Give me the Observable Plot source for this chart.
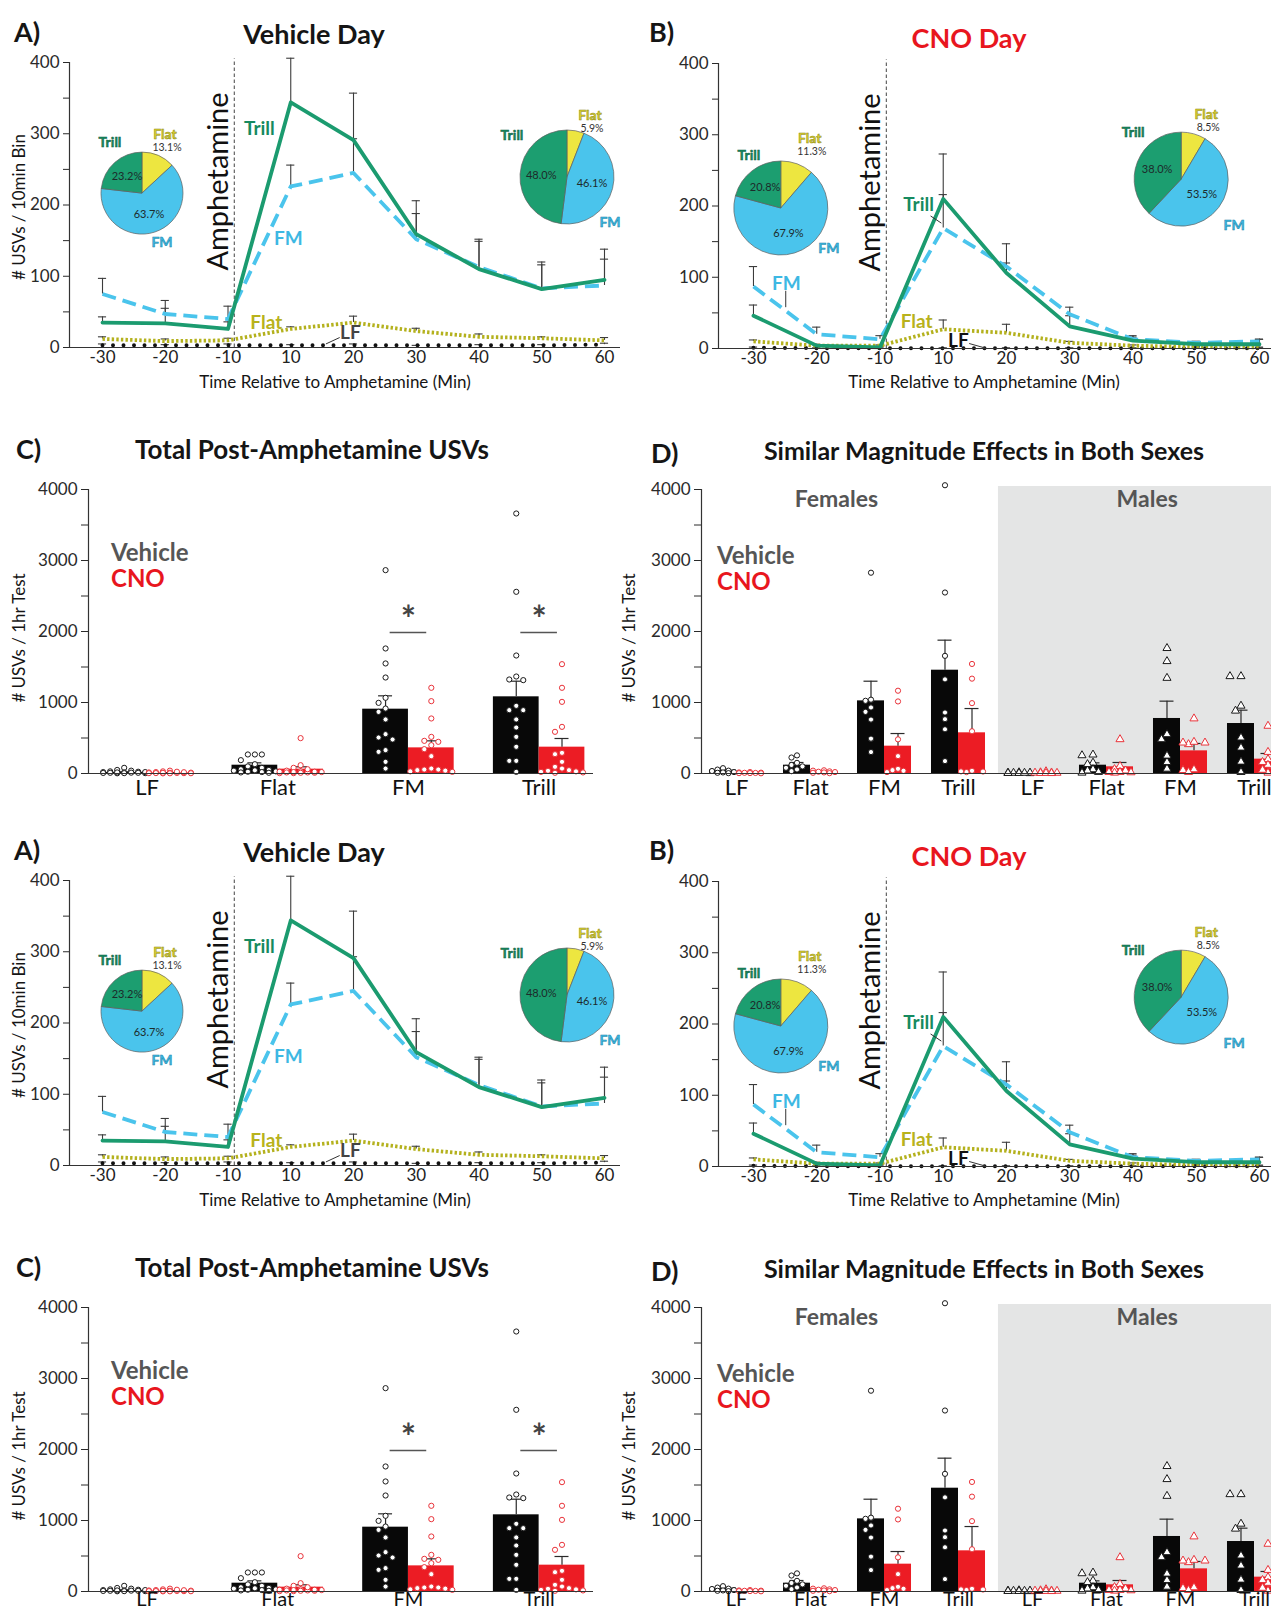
<!DOCTYPE html>
<html>
<head>
<meta charset="utf-8">
<script src="https://cdn.jsdelivr.net/npm/d3@7"></script>
<script src="https://cdn.jsdelivr.net/npm/@observablehq/plot@0.6"></script>
<style>
html,body{margin:0;padding:0;background:#fff;overflow:hidden;}
#page{position:relative;width:1271px;height:1618px;overflow:hidden;font-family:Lato,"Open Sans",sans-serif;color:#151515;background:#fff;}
.t{position:absolute;white-space:nowrap;line-height:1;}
.panel{position:absolute;overflow:visible;}
.panel svg{overflow:visible;max-width:none;display:block;}
</style>
</head>
<body>
<div id="page"></div>
<script>
// ---------------- data: panels A / B (USVs per 10-min bin) ----------------
const times = ["-30","-20","-10","10","20","30","40","50","60"];
const amphetamineAt = 2.1;           // injection, between the "-10" and "10" bins
const callTypes = ["Flat","FM","Trill"];

const vehTrill      = [35, 34, 26, 344, 291, 159, 110, 82, 95];
const vehTrillUpper = [43, 55, 36, 406, 357, 206, 152, 120, 138];
const vehFM         = [75, 47, 40, 226, 245, 152, 113, 83, 87];
const vehFMUpper    = [97, 66, 58, 256, 293, 188, 149, 116, 124];
const vehFlat       = [12, 9, 10, 26, 35, 23, 15, 13, 10];
const vehFlatUpper  = [15, 12, 13, 29, 44, 27, 19, 15, 14];
const vehLF         = [3, 3, 3, 3, 3, 3, 3, 3, 4];
const vehLFUpper    = [5, 4, 5, 4, 5, 3, 4, 4, 6];

const cnoTrill      = [46, 4, 1.5, 210, 106, 31, 11, 6, 6];
const cnoTrillUpper = [61, 6, 3, 273, 147, 46, 16, 10, 13];
const cnoFM         = [87, 20, 13, 169, 115, 48, 13, 8, 10];
const cnoFMUpper    = [115, 30, 18, 216, 120, 58, 18, 10, 13];
const cnoFlat       = [10, 4, 4, 27, 22, 8, 4, 2, 1.5];
const cnoFlatUpper  = [12, 5, 5, 40, 34, 10, 5, 3, 2];
const cnoLF         = [1, 0.5, 0.5, 0.5, 0.5, 0.5, 0.5, 0.5, 0.5];
const cnoLFUpper    = [2, 1, 1, 1, 1, 1, 1, 1, 1];

// pie percentages, in callTypes order (Flat, FM, Trill)
const vehPrePie  = [13.1, 63.7, 23.2];
const vehPostPie = [5.9, 46.1, 48.0];
const cnoPrePie  = [11.3, 67.9, 20.8];
const cnoPostPie = [8.5, 53.5, 38.0];

// ---------------- data: panel C (total post-amphetamine USVs) ----------------
const barCats     = ["LF","Flat","FM","Trill"];
const totVehMean  = [15, 117, 906, 1080];
const totVehUpper = [25, 150, 1094, 1300];
const totCnoMean  = [8, 61, 361, 371];
const totCnoUpper = [12, 94, 460, 493];
const totVehPts = [
  [80, 50, 40, 30, 25, 20, 15, 10, 10, 8, 5, 5, 3, 15, 20, 12],
  [268, 268, 268, 188, 131, 100, 80, 60, 50, 40, 30, 25, 20, 15, 10, 45],
  [2864, 1761, 1550, 1352, 1066, 995, 915, 868, 761, 554, 507, 479, 305, 329, 164, 70],
  [3662, 2559, 1662, 1366, 1315, 1324, 892, 892, 953, 761, 648, 516, 376, 178, 178, 23]];
const totCnoPts = [
  [40, 30, 20, 15, 12, 10, 8, 5, 5, 3, 2, 10, 6, 4, 18, 25],
  [498, 117, 80, 40, 30, 20, 15, 10, 10, 5, 5, 60, 25, 20, 15, 25],
  [1207, 1019, 775, 516, 446, 460, 399, 343, 244, 70, 56, 47, 56, 23, 40, 30],
  [1540, 1207, 1009, 657, 587, 272, 291, 164, 94, 70, 47, 38, 23, 30, 10, 15]];
const sigCats = ["FM","Trill"];
const sigLevel = 1986;

// ---------------- data: panel D (by sex) ----------------
const sexes = ["Females","Males"];
const femVehMean  = [47, 117, 1023, 1455];
const femVehUpper = [57, 155, 1300, 1878];
const femCnoMean  = [10, 23, 385, 573];
const femCnoUpper = [14, 30, 563, 915];
const maleVehMean  = [8, 117, 775, 704];
const maleVehUpper = [12, 150, 1019, 892];
const maleCnoMean  = [10, 94, 319, 202];
const maleCnoUpper = [14, 155, 423, 282];
const femVehPts = [[75,55,40,35,20,15,10,5],[255,225,150,80,57,33,120,100],[2828,1024,1040,868,930,760,491,302],[4060,2549,1657,1326,859,765,623,175]];
const femCnoPts = [[20,15,10,8,5,12,3,6],[45,40,30,20,15,10,5,25],[1166,1015,481,245,66,47,38,20],[1543,1336,991,595,28,38,20,30]];
const maleVehPts = [[15,10,8,5,5,3,10,8],[255,265,151,130,57,40,20,10],[1765,1581,1345,552,481,160,66,250],[1369,1369,953,883,505,363,165,19]];
const maleCnoPts = [[30,15,10,8,5,12,6,4],[481,104,60,40,20,15,10,20],[774,411,434,444,434,57,47,20],[670,302,104,10,200,120,50,160]];

// ---------------- styling ----------------
const FONT = 'Lato, "Open Sans", "DejaVu Sans", sans-serif';
const COL = {trill:"#1b9b6f", trillPie:"#1c9e70", fm:"#4ac4ec", flatLine:"#b4b11d", flatPie:"#ede640",
  lf:"#111", trillTxt:"#168a60", fmTxt:"#3db8e3", flatTxt:"#b8b21c", flatPieTxt:"#d8cf30",
  veh:"#080808", cno:"#ec1c24", cnoPt:"#e9343b", grey:"#565656", axis:"#333"};

function txt(parent, s, x, y, o = {}) {
  const d = document.createElement("div");
  d.className = "t"; d.textContent = s;
  d.style.left = x + "px"; d.style.top = y + "px";
  d.style.fontSize = (o.size || 17) + "px";
  d.style.fontWeight = o.bold ? "700" : "400";
  d.style.color = o.color || "#151515";
  const ax = o.anchor === "start" ? "0" : "-50%";
  d.style.transform = `translate(${ax},-50%)` + (o.rotate ? ` rotate(${o.rotate}deg)` : "");
  parent.appendChild(d);
}
function place(parent, svg, left, top, width) {
  const d = document.createElement("div");
  d.className = "panel"; d.style.left = left + "px"; d.style.top = top + "px"; d.style.width = width + "px";
  d.appendChild(svg); parent.appendChild(d);
}
const plotStyle = {fontFamily: FONT, fontSize: "17px", color: "#2a2a2a", background: "none", overflow: "visible"};

// ---------------- pies (drawn with d3 inside a Plot render function) ----------------
function pieMark(p) {
  return (index, scales) => {
    const cx = scales.x(p.at[0]), cy = scales.y(p.at[1]);
    const g = d3.create("svg:g").attr("transform", `translate(${cx},${cy})`);
    const data = callTypes.map((t, i) => ({type: t, pct: p.values[i]}));
    const arcs = d3.pie().sort(null).value(d => d.pct)(data);
    const arc = d3.arc().innerRadius(0).outerRadius(p.r);
    const fill = {Flat: COL.flatPie, FM: COL.fm, Trill: COL.trillPie};
    g.selectAll("path").data(arcs).join("path").attr("d", arc)
      .attr("fill", d => fill[d.data.type]).attr("stroke", "#5f5f5f").attr("stroke-width", 0.7);
    const inner = d3.arc().innerRadius(p.r * 0.55).outerRadius(p.r * 0.55);
    arcs.filter(a => a.data.type !== "Flat").forEach(a => {
      const [x, y] = inner.centroid(a);
      g.append("text").attr("x", x).attr("y", y).attr("dy", "0.35em").attr("text-anchor", "middle")
        .attr("font-size", 11).attr("fill", "#1d2b2b").attr("font-family", FONT).text(a.data.pct.toFixed(1) + "%");
    });
    const tc = {Trill: [COL.trillTxt, "#0f5e40"], Flat: [COL.flatPieTxt, "#8f8a16"], FM: [COL.fmTxt, "#1f86a8"]};
    for (const t of callTypes) {
      const [dx, dy] = p.lab[t];
      g.append("text").attr("x", dx).attr("y", t === "Flat" ? dy - 1 : dy).attr("dy", "0.35em").attr("text-anchor", "middle")
        .attr("font-size", 14).attr("font-weight", 700).attr("font-family", FONT)
        .attr("fill", tc[t][0]).attr("stroke", tc[t][1]).attr("stroke-width", 0.5).text(t);
    }
    const [fx, fy] = p.lab.Flat;
    g.append("text").attr("x", fx + 2).attr("y", fy + 12).attr("dy", "0.35em").attr("text-anchor", "middle")
      .attr("font-size", 10.5).attr("fill", "#333").attr("font-family", FONT).text(p.values[0].toFixed(1) + "%");
    return g.node();
  };
}

// ---------------- line panels ----------------
function linePanel(parent, cfg) {
  const rows = [];
  cfg.series.forEach(s => s.values.forEach((v, i) => rows.push({type: s.type, i, v, up: s.upper[i]})));
  const x0 = cfg.xDomain[0];
  const cap = 0.065;
  const lineStyle = {
    LF: {stroke: COL.lf, strokeWidth: 4, strokeDasharray: "0,10.5", strokeLinecap: "round"},
    Flat: {stroke: COL.flatLine, strokeWidth: 3.8, strokeDasharray: "2.4,2.2", strokeLinecap: "butt"},
    FM: {stroke: COL.fm, strokeWidth: 3.8, strokeDasharray: "14,7", strokeLinecap: "butt"},
    Trill: {stroke: COL.trill, strokeWidth: 3.8}
  };
  const marks = [
    Plot.ruleX(rows, {x: "i", y1: "v", y2: "up", stroke: "#3c3c3c", strokeWidth: 1.1}),
    Plot.ruleY(rows, {y: "up", x1: d => d.i - cap, x2: d => d.i + cap, stroke: "#3c3c3c", strokeWidth: 1.1}),
    Plot.ruleX([amphetamineAt], {y1: 0, y2: 405, stroke: "#444", strokeWidth: 1, strokeDasharray: "3.5,2.5"}),
    Plot.text(["Amphetamine"], {x: amphetamineAt - 0.25, y: 233, rotate: -90, fontSize: 29, fill: "#111"})
  ];
  for (const t of ["LF", "Flat", "FM", "Trill"])
    marks.push(Plot.line(rows.filter(r => r.type === t), {x: "i", y: "v", ...lineStyle[t]}));
  marks.push(
    Plot.ruleY([0], {stroke: COL.axis, strokeWidth: 1.2}),
    Plot.ruleX([x0], {y1: 0, y2: 400, stroke: COL.axis, strokeWidth: 1.2}),
    Plot.axisY({ticks: [0, 100, 200, 300, 400], tickSize: 6, tickPadding: 4, tickFormat: d => String(d), label: null}),
    Plot.axisY({ticks: [50, 150, 250, 350], tickSize: 6, tickFormat: () => "", label: null}),
    Plot.text(times.map((t, i) => ({t, i})), {x: "i", text: "t", frameAnchor: "bottom", dy: 15, fontSize: 17, fill: "#222"}),
    Plot.link(cfg.leaders, {x1: "x1", y1: "y1", x2: "x2", y2: "y2", stroke: "#333", strokeWidth: 1}),
    Plot.text(cfg.labels, {x: "x", y: "y", text: "text", fill: "fill", fontSize: 19, fontWeight: "bold"}),
    ...cfg.pies.map(pieMark)
  );
  const svg = Plot.plot({
    width: cfg.width, height: cfg.height,
    marginLeft: cfg.marginLeft, marginRight: 0, marginTop: cfg.marginTop, marginBottom: cfg.marginBottom,
    x: {domain: cfg.xDomain, axis: null},
    y: {domain: [0, 400], axis: null},
    color: {type: "identity"},
    style: plotStyle,
    marks
  });
  place(parent, svg, cfg.left, cfg.top, cfg.width);
}

// ---------------- bar panels ----------------
function swarm(vals, center, pxX, pxY, stepPx, maxK, minD) {
  const order = d3.range(vals.length).sort((a, b) => vals[b] - vals[a]);
  const placed = [], out = new Array(vals.length);
  const ks = [0]; for (let k = 1; k <= maxK; k++) ks.push(-k, k);
  for (const i of order) {
    const y = vals[i] * pxY;
    let best = 0, bestD = -1;
    for (const k of ks) {
      const x = k * stepPx;
      let dmin = Infinity;
      for (const p of placed) dmin = Math.min(dmin, Math.hypot(x - p.x, y - p.y));
      if (dmin >= minD) { best = x; bestD = Infinity; break; }
      if (dmin > bestD) { bestD = dmin; best = x; }
    }
    placed.push({x: best, y});
    out[i] = center + best / pxX;
  }
  return out;
}

function barPanel(parent, cfg) {
  const W = cfg.barW;
  const pxX = (cfg.width - cfg.marginLeft - cfg.marginRight) / (cfg.xDomain[1] - cfg.xDomain[0]);
  const pxY = (cfg.height - cfg.marginTop - cfg.marginBottom) / 4000;
  const bars = [], errs = [], pts = [];
  cfg.cats.forEach((c, g) => {
    [["veh", -W / 2], ["cno", W / 2]].forEach(([cond, o]) => {
      const center = g + o;
      bars.push({x1: center - W / 2, x2: center + W / 2, mean: cfg[cond + "Mean"][g], cond});
      errs.push({center, mean: cfg[cond + "Mean"][g], up: cfg[cond + "Upper"][g]});
      const vals = cfg[cond + "Pts"][g];
      const xs = swarm(vals, center, pxX, pxY, cfg.step, cfg.maxK, cfg.minD);
      vals.forEach((v, k) => pts.push({x: xs[k], v, cond, sym: cfg.symbols[g]}));
    });
  });
  const capU = 7 / pxX;
  const x0 = cfg.xDomain[0];
  const marks = [];
  if (cfg.shade) marks.push(Plot.rect([cfg.shade], {x1: "x1", x2: "x2", y1: 0, y2: "y2", fill: "#e4e5e5"}));
  marks.push(
    Plot.rect(bars.filter(b => b.cond === "veh"), {x1: "x1", x2: "x2", y1: 0, y2: "mean", fill: COL.veh}),
    Plot.rect(bars.filter(b => b.cond === "cno"), {x1: "x1", x2: "x2", y1: 0, y2: "mean", fill: COL.cno}),
    Plot.ruleX(errs, {x: "center", y1: "mean", y2: "up", stroke: "#2a2a2a", strokeWidth: 1.2}),
    Plot.ruleY(errs, {y: "up", x1: d => d.center - capU, x2: d => d.center + capU, stroke: "#2a2a2a", strokeWidth: 1.2}),
    Plot.dot(pts.filter(p => p.cond === "veh" && p.sym === "circle"), {x: "x", y: "v", r: 2.6, stroke: "#1a1a1a", fill: "white", strokeWidth: 1}),
    Plot.dot(pts.filter(p => p.cond === "cno" && p.sym === "circle"), {x: "x", y: "v", r: 2.6, stroke: COL.cnoPt, fill: "white", strokeWidth: 1}),
    Plot.dot(pts.filter(p => p.cond === "veh" && p.sym === "triangle"), {x: "x", y: "v", r: 3, symbol: "triangle", stroke: "#1a1a1a", fill: "white", strokeWidth: 1}),
    Plot.dot(pts.filter(p => p.cond === "cno" && p.sym === "triangle"), {x: "x", y: "v", r: 3, symbol: "triangle", stroke: COL.cnoPt, fill: "white", strokeWidth: 1}),
    Plot.ruleY([0], {stroke: COL.axis, strokeWidth: 1.2}),
    Plot.ruleX([x0], {y1: 0, y2: 4000, stroke: COL.axis, strokeWidth: 1.2}),
    Plot.axisY({ticks: [0, 1000, 2000, 3000, 4000], tickSize: 7, tickPadding: 4, tickFormat: d => String(d), label: null}),
    Plot.axisY({ticks: [500, 1500, 2500, 3500], tickSize: 7, tickFormat: () => "", label: null}),
    Plot.text(cfg.cats.map((c, i) => ({c, i})), {x: "i", text: "c", frameAnchor: "bottom", dy: cfg.catDy, fontSize: cfg.catSize, fill: "#111"})
  );
  if (cfg.sig) marks.push(
    Plot.ruleY(cfg.sig, {y: "y", x1: d => d.g - 0.14, x2: d => d.g + 0.14, stroke: "#555", strokeWidth: 1.3}),
    Plot.text(cfg.sig, {x: "g", y: "y", text: () => "*", dy: -12, fontSize: 36, fontWeight: "bold", fill: "#444"})
  );
  if (cfg.sexLabels) marks.push(
    Plot.text(cfg.sexLabels, {x: "x", y: 3860, text: "text", fontSize: 23, fontWeight: "bold", fill: "#555"})
  );
  const svg = Plot.plot({
    width: cfg.width, height: cfg.height,
    marginLeft: cfg.marginLeft, marginRight: cfg.marginRight, marginTop: cfg.marginTop, marginBottom: cfg.marginBottom,
    x: {domain: cfg.xDomain, axis: null},
    y: {domain: [0, 4000], axis: null},
    style: plotStyle,
    marks
  });
  place(parent, svg, cfg.left, cfg.top, cfg.width);
}

// ---------------- compose one copy of the figure ----------------
function figure(root, offset, catDy, catSize) {
  const c = document.createElement("div");
  c.style.position = "absolute"; c.style.left = "0px"; c.style.top = offset + "px";
  c.style.width = "1271px"; c.style.height = "800px";
  root.appendChild(c);

  // Panel A
  linePanel(c, {
    left: 0, top: 0, width: 620, height: 400, marginLeft: 69, marginTop: 62, marginBottom: 53, xDomain: [-0.526, 8.255],
    series: [
      {type: "Trill", values: vehTrill, upper: vehTrillUpper},
      {type: "FM", values: vehFM, upper: vehFMUpper},
      {type: "Flat", values: vehFlat, upper: vehFlatUpper},
      {type: "LF", values: vehLF, upper: vehLFUpper}],
    labels: [
      {text: "Trill", x: 2.5, y: 307, fill: COL.trillTxt},
      {text: "FM", x: 2.96, y: 153, fill: COL.fmTxt},
      {text: "Flat", x: 2.61, y: 35, fill: COL.flatTxt},
      {text: "LF", x: 3.95, y: 20, fill: "#444"}],
    leaders: [{x1: 3.78, y1: 14, x2: 3.56, y2: 5}],
    pies: [
      {at: [0.637, 216], r: 41, values: vehPrePie, lab: {Trill: [-32, -51], Flat: [23, -58], FM: [20, 49]}},
      {at: [7.41, 238.6], r: 47, values: vehPostPie, lab: {Trill: [-55, -42], Flat: [23, -61], FM: [43, 45]}}]
  });
  txt(c, "A)", 14, 31, {size: 27, bold: true, anchor: "start"});
  txt(c, "Vehicle Day", 314, 33, {size: 27, bold: true});
  txt(c, "# USVs / 10min Bin", 18, 207, {size: 17, rotate: -90});
  txt(c, "Time Relative to Amphetamine (Min)", 335, 381, {size: 17});

  // Panel B
  linePanel(c, {
    left: 620, top: 0, width: 651, height: 400, marginLeft: 98, marginTop: 63, marginBottom: 52, xDomain: [-0.553, 8.19],
    series: [
      {type: "Trill", values: cnoTrill, upper: cnoTrillUpper},
      {type: "FM", values: cnoFM, upper: cnoFMUpper},
      {type: "Flat", values: cnoFlat, upper: cnoFlatUpper},
      {type: "LF", values: cnoLF, upper: cnoLFUpper}],
    labels: [
      {text: "Trill", x: 2.61, y: 202, fill: COL.trillTxt},
      {text: "FM", x: 0.52, y: 91, fill: COL.fmTxt},
      {text: "Flat", x: 2.58, y: 38, fill: COL.flatTxt},
      {text: "LF", x: 3.24, y: 11, fill: "#111"}],
    leaders: [{x1: 2.8, y1: 186, x2: 2.97, y2: 176}, {x1: 0.51, y1: 81, x2: 0.51, y2: 58}, {x1: 3.41, y1: 7, x2: 3.67, y2: 0.5}],
    pies: [
      {at: [0.44, 196.5], r: 47, values: cnoPrePie, lab: {Trill: [-32, -53], Flat: [29, -69], FM: [48, 40]}},
      {at: [6.77, 237], r: 47, values: cnoPostPie, lab: {Trill: [-48, -47], Flat: [25, -64], FM: [53, 46]}}]
  });
  txt(c, "B)", 649, 31, {size: 27, bold: true, anchor: "start"});
  txt(c, "CNO Day", 969, 37, {size: 27, bold: true, color: "#e8161e"});
  txt(c, "Time Relative to Amphetamine (Min)", 984, 381, {size: 17});

  // Panel C
  barPanel(c, {
    left: 0, top: 400, width: 620, height: 400, marginLeft: 88, marginRight: 27, marginTop: 89, marginBottom: 27,
    xDomain: [-0.448, 3.416], barW: 0.35, step: 7, maxK: 3, minD: 5.8, catDy, catSize,
    cats: barCats, symbols: barCats.map(() => "circle"),
    vehMean: totVehMean, vehUpper: totVehUpper, cnoMean: totCnoMean, cnoUpper: totCnoUpper,
    vehPts: totVehPts, cnoPts: totCnoPts,
    sig: sigCats.map(s => ({g: barCats.indexOf(s), y: sigLevel}))
  });
  txt(c, "C)", 16, 448, {size: 27, bold: true, anchor: "start"});
  txt(c, "Total Post-Amphetamine USVs", 312, 449, {size: 26, bold: true});
  txt(c, "# USVs / 1hr Test", 18, 638, {size: 17, rotate: -90});
  txt(c, "Vehicle", 111, 552, {size: 24, bold: true, color: COL.grey, anchor: "start"});
  txt(c, "CNO", 111, 578, {size: 24, bold: true, color: "#e8161e", anchor: "start"});

  // Panel D
  const dCats = barCats.concat(barCats);
  barPanel(c, {
    left: 620, top: 400, width: 700, height: 400, marginLeft: 81, marginRight: 0, marginTop: 89, marginBottom: 27,
    xDomain: [-0.473, 7.892], barW: 0.365, step: 5.5, maxK: 2, minD: 5.6, catDy, catSize,
    cats: dCats, symbols: dCats.map((_, i) => i < 4 ? "circle" : "triangle"),
    vehMean: femVehMean.concat(maleVehMean), vehUpper: femVehUpper.concat(maleVehUpper),
    cnoMean: femCnoMean.concat(maleCnoMean), cnoUpper: femCnoUpper.concat(maleCnoUpper),
    vehPts: femVehPts.concat(maleVehPts), cnoPts: femCnoPts.concat(maleCnoPts),
    shade: {x1: 3.54, x2: 7.892, y2: 4042},
    sexLabels: [{text: sexes[0], x: 1.35}, {text: sexes[1], x: 5.55}]
  });
  txt(c, "D)", 651, 452, {size: 27, bold: true, anchor: "start"});
  txt(c, "Similar Magnitude Effects in Both Sexes", 984, 450, {size: 25, bold: true});
  txt(c, "# USVs / 1hr Test", 628, 638, {size: 17, rotate: -90});
  txt(c, "Vehicle", 717, 555, {size: 24, bold: true, color: COL.grey, anchor: "start"});
  txt(c, "CNO", 717, 581, {size: 24, bold: true, color: "#e8161e", anchor: "start"});
}

const page = document.getElementById("page");
figure(page, 0, 21, 22);
figure(page, 818, 14, 20);
</script>
</body>
</html>
